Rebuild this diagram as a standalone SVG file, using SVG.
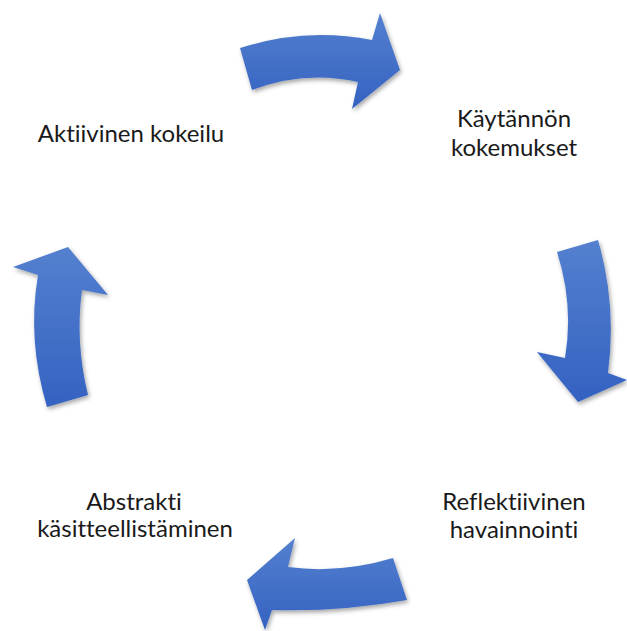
<svg xmlns="http://www.w3.org/2000/svg" width="627" height="631" viewBox="0 0 627 631">
<defs>
<linearGradient id="g" x1="0" y1="0" x2="0" y2="1">
<stop offset="0" stop-color="#5480cf"/>
<stop offset="1" stop-color="#3462c1"/>
</linearGradient>
<filter id="sh" x="-20%" y="-20%" width="140%" height="140%">
<feDropShadow dx="1.5" dy="2.5" stdDeviation="2" flood-color="#000" flood-opacity="0.35"/>
</filter>
<style>
.arr{fill:url(#g);filter:url(#sh);}
.t{font-family:"Lato","Open Sans","Liberation Sans",sans-serif;font-size:24px;fill:#1a1a1a;text-anchor:middle;font-variant-ligatures:none;font-feature-settings:"liga" 0,"clig" 0;}
</style>
</defs>
<rect width="627" height="631" fill="#fff"/>
<g id="connectors">
<path class="arr" d="M240,48 Q305,27 372,40 L380,13 L400,70 L352,109 L358,82 Q305,70 252,90 Z"/>
<path class="arr" d="M557,252 L598,240 Q617,305 608,373 L627,380 L578,402 L537,352 L565,358 Q574,305 557,252 Z"/>
<path class="arr" d="M393,558 L407,600 Q340,612 272,610 L265,630 L247,580 L295,538 L288,567 Q340,574 393,558 Z"/>
<path class="arr" d="M47,407 L88,395 Q75,342 82,290 L108,295 L68,247 L13,267 L38,275 Q27,340 47,407 Z"/>
</g>
<g id="node-aktiivinen"><text class="t" x="131" y="141.5">Aktiivinen kokeilu</text></g>
<g id="node-kaytannon"><text class="t" x="514" y="127">Käytännön</text><text class="t" x="514" y="156">kokemukset</text></g>
<g id="node-reflektiivinen"><text class="t" x="514" y="510">Reflektiivinen</text><text class="t" x="514" y="538">havainnointi</text></g>
<g id="node-abstrakti"><text class="t" x="134" y="510">Abstrakti</text><text class="t" x="135" y="537">käsitteellistäminen</text></g>
</svg>
